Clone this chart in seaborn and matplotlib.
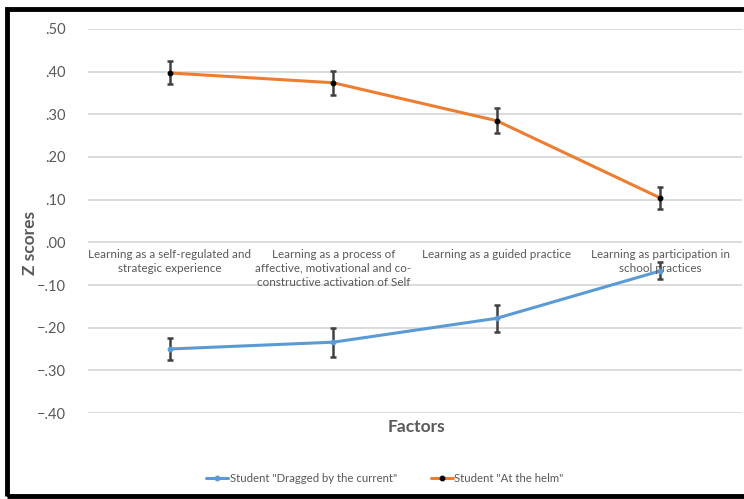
import matplotlib
matplotlib.use("Agg")
import matplotlib.pyplot as plt
import seaborn as sns
import pandas as pd
from matplotlib.patches import Rectangle
from matplotlib.lines import Line2D

# Factor labels (x categories)
factors = [
    "Learning as a self-regulated and\nstrategic experience",
    "Learning as a process of\naffective, motivational and co-\nconstructive activation of Self",
    "Learning as a guided practice",
    "Learning as participation in\nschool practices",
]

# Mean z scores per group
dragged = [-0.250, -0.234, -0.178, -0.067]
helm = [0.397, 0.374, 0.285, 0.104]

# Half-widths of the error bars
dragged_err = [0.026, 0.034, 0.031, 0.020]
helm_err = [0.027, 0.028, 0.029, 0.025]

series_names = ['Student "Dragged by the current"', 'Student "At the helm"']
yticks = [0.5, 0.4, 0.3, 0.2, 0.1, 0.0, -0.1, -0.2, -0.3, -0.4]

df = pd.DataFrame({
    "pos": list(range(len(factors))) * 2,
    "z": dragged + helm,
    "err": dragged_err + helm_err,
    "group": [series_names[0]] * len(factors) + [series_names[1]] * len(factors),
})

sns.set_theme(style="white")
plt.rcParams["font.family"] = ["Lato", "DejaVu Sans"]

TEXT = "#595959"
BLUE = "#5B9BD5"
ORANGE = "#ED7D31"

fig = plt.figure(figsize=(7.44, 4.99), dpi=100)
ax = fig.add_axes([88 / 744, 1 - 413 / 499, 654 / 744, 384 / 499])

ax.set_xlim(-0.5, len(factors) - 0.5)
ax.set_ylim(-0.4, 0.5)

# horizontal gridlines
for t in yticks:
    ax.axhline(t, color="#d9d9d9", lw=1.3, zorder=0)

palette = {series_names[0]: BLUE, series_names[1]: ORANGE}
sns.lineplot(data=df, x="pos", y="z", hue="group", palette=palette,
             lw=2.2, legend=False, ax=ax, zorder=3, errorbar=None)

for name, mcol in zip(series_names, [BLUE, "black"]):
    sub = df[df.group == name]
    ax.errorbar(sub.pos, sub.z, yerr=sub.err, fmt="none", ecolor="#404040",
                elinewidth=1.8, capsize=2.5, capthick=1.8, zorder=4)
    ax.plot(sub.pos, sub.z, "o", ms=3.2, color=mcol, zorder=5, lw=0)

ax.set_yticks(yticks)
ax.set_yticklabels([(("\u2212" if t < 0 else "") + f"{abs(t):.2f}"[1:]) for t in yticks],
                   color=TEXT, fontsize=10.5)
ax.tick_params(axis="y", length=0, pad=16)
ax.set_xticks([])
ax.set_xlabel("")
ax.set_ylabel("")
for s in ax.spines.values():
    s.set_visible(False)

# category labels sitting just under the zero line
for i, lab in enumerate(factors):
    ax.text(i, -0.015, lab, ha="center", va="top", fontsize=8.4, color=TEXT,
            linespacing=1.35)

fig.text(30 / 744, 1 - 243 / 499, "Z scores", rotation=90, ha="center", va="center",
         fontsize=12.5, fontweight="bold", color=TEXT)
fig.text(416 / 744, 1 - 427 / 499, "Factors", ha="center", va="center",
         fontsize=12.5, fontweight="bold", color=TEXT)

handles = [
    Line2D([0], [0], color=BLUE, lw=2.2, marker="o", ms=3.2, mfc=BLUE, mec=BLUE),
    Line2D([0], [0], color=ORANGE, lw=2.2, marker="o", ms=3.2, mfc="black", mec="black"),
]
leg = fig.legend(handles, series_names, loc="center", ncol=2,
                 bbox_to_anchor=(385 / 744, 1 - 478 / 499), frameon=False,
                 fontsize=8.2, handlelength=1.9, handletextpad=0.15, columnspacing=3.0)
for t in leg.get_texts():
    t.set_color(TEXT)

# black frame around the chart area
fig.patches.append(Rectangle((7 / 744, 3 / 499), 1.2, 1 - 12 / 499,
                             transform=fig.transFigure, fill=False,
                             edgecolor="black", lw=3.5, zorder=10))

fig.savefig("out.png", dpi=100, facecolor="white")
